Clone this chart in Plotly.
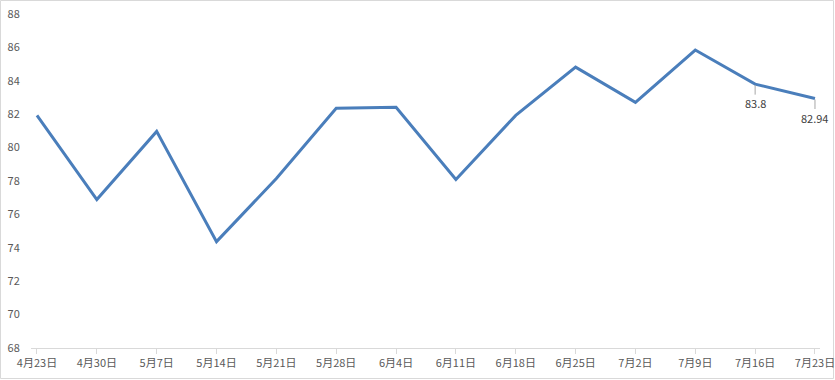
import plotly.graph_objects as go

categories = ["4月23日", "4月30日", "5月7日", "5月14日", "5月21日", "5月28日", "6月4日",
              "6月11日", "6月18日", "6月25日", "7月2日", "7月9日", "7月16日", "7月23日"]
values = [81.93, 76.89, 80.97, 74.37, 78.15, 82.35, 82.41,
          78.09, 81.93, 84.82, 82.71, 85.84, 83.8, 82.94]
labeled_idx = [12, 13]
y_ticks = [68, 70, 72, 74, 76, 78, 80, 82, 84, 86, 88]

W, H = 835, 380
ML, MR, MT, MB = 31, 15, 14, 32

xs = list(range(len(categories)))
fig = go.Figure()
fig.add_trace(go.Scatter(
    x=xs, y=values, mode="lines",
    line=dict(color="#4a7ebb", width=3),
    hoverinfo="skip", showlegend=False, cliponaxis=False,
))

font = dict(family="Noto Sans CJK SC, Microsoft YaHei, sans-serif", size=11, color="#595959")

for i in labeled_idx:
    fig.add_annotation(
        x=xs[i], y=values[i], text=str(values[i]),
        showarrow=True, arrowhead=0, arrowwidth=1, arrowcolor="#a6a6a6",
        ax=0, ay=19, standoff=1, font=dict(family=font["family"], size=11, color="#404040"),
        borderpad=0,
    )

pw = W - ML - MR
ph = H - MT - MB
fig.add_shape(type="rect", xref="paper", yref="paper",
              x0=-(ML - 0.5) / pw, x1=(pw + MR - 1.5) / pw,
              y0=-(MB - 1.5) / ph, y1=(ph + MT - 0.5) / ph,
              line=dict(color="#d9d9d9", width=1), layer="below")

fig.update_layout(
    width=W, height=H, autosize=False,
    margin=dict(l=ML, r=MR, t=MT, b=MB, pad=0, autoexpand=False),
    paper_bgcolor="white", plot_bgcolor="white",
    font=font,
    xaxis=dict(
        range=[-0.1, len(categories) - 1 + 0.084],
        tickmode="array", tickvals=xs, ticktext=categories,
        showgrid=False, zeroline=False, automargin=False,
        showline=True, linecolor="#d9d9d9", linewidth=1,
        ticks="outside", ticklen=5, tickcolor="#d9d9d9", tickwidth=1,
        tickangle=0, tickfont=font, ticklabeloverflow="allow",
    ),
    yaxis=dict(
        range=[68, 88], automargin=False,
        tickmode="array", tickvals=y_ticks,
        showgrid=False, zeroline=False, showline=False,
        ticks="outside", ticklen=8, tickcolor="rgba(0,0,0,0)",
        tickfont=font, ticklabeloverflow="allow",
    ),
)

fig.write_html("out.html")
